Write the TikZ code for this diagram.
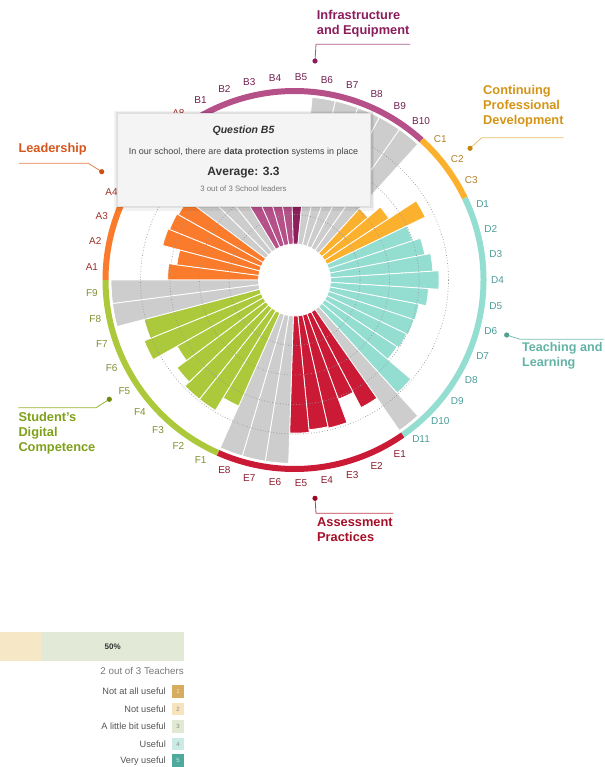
\documentclass[tikz,border=0pt]{standalone}
\usepackage{fontspec}
\setmainfont{Liberation Sans}

\definecolor{leadOrange}{RGB}{250,123,43}
\definecolor{infraPink}{RGB}{181,80,136}
\definecolor{infraDark}{RGB}{140,31,92}
\definecolor{cpdYellow}{RGB}{251,177,46}
\definecolor{tlTeal}{RGB}{148,221,209}
\definecolor{apRed}{RGB}{203,26,53}
\definecolor{sdcGreen}{RGB}{172,201,59}
\definecolor{noData}{RGB}{205,205,205}
\definecolor{leadLbl}{RGB}{160,48,42}
\definecolor{infraLbl}{RGB}{112,32,80}
\definecolor{cpdLbl}{RGB}{176,128,40}
\definecolor{tlLbl}{RGB}{74,156,152}
\definecolor{apLbl}{RGB}{140,28,44}
\definecolor{sdcLbl}{RGB}{126,144,48}

\newcommand{\petal}[3]{%
  \draw [draw=white, line width=0.8, fill=#3] ({180-#1*7.346939}:36) arc [start angle={180-#1*7.346939}, end angle={180-(#1+1)*7.346939}, radius=36] -- ({180-(#1+1)*7.346939}:{36+29.5*#2}) arc [start angle={180-(#1+1)*7.346939}, end angle={180-#1*7.346939}, radius={36+29.5*#2}] -- cycle ;}
\newcommand{\petallabel}[3]{%
  \node [text=#3, font=\fontsize{10}{12}\selectfont, inner sep=0.75pt] (lbl#2) at ({180-(#1+0.5)*7.346939}:203) {#2};}

\begin{document}
\begin{tikzpicture}[x=1pt,y=1pt,yscale=-1,xscale=1]
\useasboundingbox (0,0) rectangle (604,767);

\begin{scope}[shift={(294.5,280)}, yscale=-1]
% Leadership
\petal{0}{3.08}{leadOrange}
\petal{1}{2.80}{leadOrange}
\petal{2}{3.40}{leadOrange}
\petal{3}{3.35}{leadOrange}
\petal{4}{3.30}{leadOrange}
\petal{5}{5}{noData}
\petal{6}{5}{noData}
\petal{7}{5}{noData}
% Infrastructure and Equipment
\petal{8}{3.50}{infraPink}
\petal{9}{3.50}{infraPink}
\petal{10}{3.30}{infraPink}
\petal{11}{3.60}{infraPink}
\petal{12}{3.30}{infraDark}
\petal{13}{5}{noData}
\petal{14}{5}{noData}
\petal{15}{5}{noData}
\petal{16}{5}{noData}
\petal{17}{5}{noData}
% Continuing Professional Development
\petal{18}{2.05}{cpdYellow}
\petal{19}{2.60}{cpdYellow}
\petal{20}{3.70}{cpdYellow}
% Teaching and Learning
\petal{21}{3.00}{tlTeal}
\petal{22}{3.28}{tlTeal}
\petal{23}{3.48}{tlTeal}
\petal{24}{3.68}{tlTeal}
\petal{25}{3.33}{tlTeal}
\petal{26}{3.08}{tlTeal}
\petal{27}{3.05}{tlTeal}
\petal{28}{3.00}{tlTeal}
\petal{29}{2.93}{tlTeal}
\petal{30}{3.96}{tlTeal}
\petal{31}{5}{noData}
% Assessment Practices
\petal{32}{3.66}{apRed}
\petal{33}{3.08}{apRed}
\petal{34}{3.93}{apRed}
\petal{35}{3.88}{apRed}
\petal{36}{3.97}{apRed}
\petal{37}{5}{noData}
\petal{38}{5}{noData}
\petal{39}{5}{noData}
% Student's Digital Competence
\petal{40}{3.45}{sdcGreen}
\petal{41}{3.95}{sdcGreen}
\petal{42}{3.95}{sdcGreen}
\petal{43}{3.75}{sdcGreen}
\petal{44}{3.35}{sdcGreen}
\petal{45}{4.28}{sdcGreen}
\petal{46}{4.05}{sdcGreen}
\petal{47}{5}{noData}
\petal{48}{5}{noData}

%Shape: Circle
\draw [color={rgb, 255:red, 150; green, 150; blue, 150 }, dotted, line width=0.7] (0,0) circle [radius=65.5];
\draw [color={rgb, 255:red, 150; green, 150; blue, 150 }, dotted, line width=0.7] (0,0) circle [radius=95];
\draw [color={rgb, 255:red, 150; green, 150; blue, 150 }, dotted, line width=0.7] (0,0) circle [radius=124.5];
\draw [color={rgb, 255:red, 150; green, 150; blue, 150 }, dotted, line width=0.7] (0,0) circle [radius=154];

%Shape: Arc
\draw [leadOrange, line width=6] (180:189) arc [start angle=180, end angle=121.2245, radius=189];
\draw [infraPink, line width=6] (121.2245:189) arc [start angle=121.2245, end angle=47.7551, radius=189];
\draw [cpdYellow, line width=6] (47.7551:189) arc [start angle=47.7551, end angle=25.7143, radius=189];
\draw [tlTeal, line width=6] (25.7143:189) arc [start angle=25.7143, end angle=-55.1020, radius=189];
\draw [apRed, line width=6] (-55.1020:189) arc [start angle=-55.1020, end angle=-113.8776, radius=189];
\draw [sdcGreen, line width=6] (-113.8776:189) arc [start angle=-113.8776, end angle=-180, radius=189];

% Text Node
\petallabel{0}{A1}{leadLbl}
\petallabel{1}{A2}{leadLbl}
\petallabel{2}{A3}{leadLbl}
\petallabel{3}{A4}{leadLbl}
\petallabel{7}{A8}{leadLbl}
\petallabel{8}{B1}{infraLbl}
\petallabel{9}{B2}{infraLbl}
\petallabel{10}{B3}{infraLbl}
\petallabel{11}{B4}{infraLbl}
\petallabel{12}{B5}{infraLbl}
\petallabel{13}{B6}{infraLbl}
\petallabel{14}{B7}{infraLbl}
\petallabel{15}{B8}{infraLbl}
\petallabel{16}{B9}{infraLbl}
\petallabel{17}{B10}{infraLbl}
\petallabel{18}{C1}{cpdLbl}
\petallabel{19}{C2}{cpdLbl}
\petallabel{20}{C3}{cpdLbl}
\petallabel{21}{D1}{tlLbl}
\petallabel{22}{D2}{tlLbl}
\petallabel{23}{D3}{tlLbl}
\petallabel{24}{D4}{tlLbl}
\petallabel{25}{D5}{tlLbl}
\petallabel{26}{D6}{tlLbl}
\petallabel{27}{D7}{tlLbl}
\petallabel{28}{D8}{tlLbl}
\petallabel{29}{D9}{tlLbl}
\petallabel{30}{D10}{tlLbl}
\petallabel{31}{D11}{tlLbl}
\petallabel{32}{E1}{apLbl}
\petallabel{33}{E2}{apLbl}
\petallabel{34}{E3}{apLbl}
\petallabel{35}{E4}{apLbl}
\petallabel{36}{E5}{apLbl}
\petallabel{37}{E6}{apLbl}
\petallabel{38}{E7}{apLbl}
\petallabel{39}{E8}{apLbl}
\petallabel{40}{F1}{sdcLbl}
\petallabel{41}{F2}{sdcLbl}
\petallabel{42}{F3}{sdcLbl}
\petallabel{43}{F4}{sdcLbl}
\petallabel{44}{F5}{sdcLbl}
\petallabel{45}{F6}{sdcLbl}
\petallabel{46}{F7}{sdcLbl}
\petallabel{47}{F8}{sdcLbl}
\petallabel{48}{F9}{sdcLbl}
\end{scope}

%Straight Lines
\coordinate (infraDot) at (315,61);
\coordinate (infraBend) at (316,44.3);
\coordinate (infraEnd) at (410,44.3);
\draw [color={rgb, 255:red, 170; green, 90; blue, 135 }, line width=0.8] (infraDot) -- (infraBend) -- (infraEnd);
\fill [color={rgb, 255:red, 140; green, 28; blue, 92 }] (infraDot) circle [radius=2.6];
\coordinate (leadDot) at (101.7,171.7);
\coordinate (leadBend) at (88.3,163.3);
\coordinate (leadEnd) at (19,163.3);
\draw [color={rgb, 255:red, 230; green, 130; blue, 80 }, line width=0.8] (leadDot) -- (leadBend) -- (leadEnd);
\fill [color={rgb, 255:red, 204; green, 80; blue, 20 }] (leadDot) circle [radius=2.6];
\coordinate (cpdDot) at (470,148.3);
\coordinate (cpdBend) at (481.7,137.8);
\coordinate (cpdEnd) at (563.3,137.8);
\draw [color={rgb, 255:red, 235; green, 190; blue, 100 }, line width=0.8] (cpdDot) -- (cpdBend) -- (cpdEnd);
\fill [color={rgb, 255:red, 196; green, 136; blue, 10 }] (cpdDot) circle [radius=2.6];
\coordinate (tlDot) at (506.7,335);
\coordinate (tlBend) at (520,339.3);
\coordinate (tlEnd) at (604,339.3);
\draw [color={rgb, 255:red, 120; green, 190; blue, 178 }, line width=0.8] (tlDot) -- (tlBend) -- (tlEnd);
\fill [color={rgb, 255:red, 80; green, 160; blue, 148 }] (tlDot) circle [radius=2.6];
\coordinate (apDot) at (315,498.3);
\coordinate (apBend) at (316,513.3);
\coordinate (apEnd) at (393.3,513.3);
\draw [color={rgb, 255:red, 190; green, 60; blue, 80 }, line width=0.8] (apDot) -- (apBend) -- (apEnd);
\fill [color={rgb, 255:red, 150; green, 10; blue, 32 }] (apDot) circle [radius=2.6];
\coordinate (sdcDot) at (109.3,399.3);
\coordinate (sdcBend) at (96,407.7);
\coordinate (sdcEnd) at (18.3,407.7);
\draw [color={rgb, 255:red, 150; green, 180; blue, 50 }, line width=0.8] (sdcDot) -- (sdcBend) -- (sdcEnd);
\fill [color={rgb, 255:red, 110; green, 140; blue, 10 }] (sdcDot) circle [radius=2.6];

% Text Node
\node [anchor=north west, inner sep=0pt, align=left, font=\bfseries\fontsize{12.8}{15}\selectfont, text={rgb, 255:red, 139; green, 28; blue, 92 }] (infraTitle) at (316.7,10.5) {Infrastructure\\and Equipment};
% Text Node
\node [anchor=north west, inner sep=0pt, align=left, font=\bfseries\fontsize{12.8}{15}\selectfont, text={rgb, 255:red, 212; green, 88; blue, 30 }] (leadTitle) at (18.3,143.5) {Leadership};
% Text Node
\node [anchor=north west, inner sep=0pt, align=left, font=\bfseries\fontsize{12.8}{15}\selectfont, text={rgb, 255:red, 212; green, 148; blue, 22 }] (cpdTitle) at (483,85.5) {Continuing\\Professional\\Development};
% Text Node
\node [anchor=north west, inner sep=0pt, align=left, font=\bfseries\fontsize{12.6}{15}\selectfont, text={rgb, 255:red, 98; green, 179; blue, 165 }] (tlTitle) at (522,342.5) {Teaching and\\Learning};
% Text Node
\node [anchor=north west, inner sep=0pt, align=left, font=\bfseries\fontsize{12.8}{15}\selectfont, text={rgb, 255:red, 165; green, 15; blue, 39 }] (apTitle) at (317,517.5) {Assessment\\Practices};
% Text Node
\node [anchor=north west, inner sep=0pt, align=left, font=\bfseries\fontsize{12.8}{15}\selectfont, text={rgb, 255:red, 127; green, 160; blue, 26 }] (sdcTitle) at (18.3,412.5) {Student's\\Digital\\Competence};

%Shape: Rectangle
\fill [black, opacity=0.05] (114,111) rectangle (374,211);
\fill [black, opacity=0.07] (115.5,112) rectangle (372.5,208.5);
\draw [color={rgb, 255:red, 222; green, 222; blue, 222 }, fill={rgb, 255:red, 244; green, 244; blue, 244 }] (117,113) rectangle (370,206);
% Text Node
\node [font=\bfseries\itshape\fontsize{10.5}{12}\selectfont, text={rgb, 255:red, 51; green, 51; blue, 51 }] (tipTitle) at (243.5,131) {Question B5};
% Text Node
\node [font=\fontsize{9}{10}\selectfont, text={rgb, 255:red, 68; green, 68; blue, 68 }] (tipQuestion) at (243.5,152) {In our school, there are \textbf{data protection} systems in place};
% Text Node
\node [font=\bfseries\fontsize{12}{14}\selectfont, text={rgb, 255:red, 51; green, 51; blue, 51 }] (tipAverage) at (243.5,173) {Average: 3.3};
% Text Node
\node [font=\fontsize{7.8}{9}\selectfont, text={rgb, 255:red, 120; green, 120; blue, 120 }] (tipCount) at (243.5,189) {3 out of 3 School leaders};

%Shape: Rectangle
\fill [color={rgb, 255:red, 246; green, 231; blue, 198 }] (0,632) rectangle (41,661);
\fill [color={rgb, 255:red, 226; green, 233; blue, 214 }] (41,632) rectangle (184,661);
% Text Node
\node [font=\bfseries\fontsize{8}{10}\selectfont, text={rgb, 255:red, 51; green, 51; blue, 51 }] (shareLbl) at (112.7,646.7) {50\%};
% Text Node
\node [anchor=east, inner sep=0pt, font=\fontsize{9.8}{11}\selectfont, text={rgb, 255:red, 120; green, 120; blue, 120 }] (teacherCount) at (184,671) {2 out of 3 Teachers};

% Text Node
\node [anchor=east, inner sep=0pt, font=\fontsize{9.2}{11}\selectfont, text={rgb, 255:red, 85; green, 85; blue, 85 }] (lvlOneLbl) at (166,691.7) {Not at all useful};
\node [anchor=east, inner sep=0pt, font=\fontsize{9.2}{11}\selectfont, text={rgb, 255:red, 85; green, 85; blue, 85 }] (lvlTwoLbl) at (166,709) {Not useful};
\node [anchor=east, inner sep=0pt, font=\fontsize{9.2}{11}\selectfont, text={rgb, 255:red, 85; green, 85; blue, 85 }] (lvlThreeLbl) at (166,726.7) {A little bit useful};
\node [anchor=east, inner sep=0pt, font=\fontsize{9.2}{11}\selectfont, text={rgb, 255:red, 85; green, 85; blue, 85 }] (lvlFourLbl) at (166,744) {Useful};
\node [anchor=east, inner sep=0pt, font=\fontsize{9.2}{11}\selectfont, text={rgb, 255:red, 85; green, 85; blue, 85 }] (lvlFiveLbl) at (166,760.7) {Very useful};
%Shape: Square
\node [fill={rgb, 255:red, 214; green, 172; blue, 94 }, minimum size=12.5, inner sep=0pt, font=\fontsize{6}{7}\selectfont, text={rgb, 255:red, 250; green, 235; blue, 200 }] (lvlOneBox) at (178,691.7) {1};
\node [fill={rgb, 255:red, 248; green, 228; blue, 188 }, minimum size=12.5, inner sep=0pt, font=\fontsize{6}{7}\selectfont, text={rgb, 255:red, 140; green, 140; blue, 140 }] (lvlTwoBox) at (178,709) {2};
\node [fill={rgb, 255:red, 225; green, 233; blue, 212 }, minimum size=12.5, inner sep=0pt, font=\fontsize{6}{7}\selectfont, text={rgb, 255:red, 140; green, 140; blue, 140 }] (lvlThreeBox) at (178,726.7) {3};
\node [fill={rgb, 255:red, 201; green, 234; blue, 229 }, minimum size=12.5, inner sep=0pt, font=\fontsize{6}{7}\selectfont, text={rgb, 255:red, 140; green, 140; blue, 140 }] (lvlFourBox) at (178,744) {4};
\node [fill={rgb, 255:red, 77; green, 170; blue, 156 }, minimum size=12.5, inner sep=0pt, font=\fontsize{6}{7}\selectfont, text={rgb, 255:red, 200; green, 235; blue, 230 }] (lvlFiveBox) at (178,760.7) {5};
\end{tikzpicture}
\end{document}
